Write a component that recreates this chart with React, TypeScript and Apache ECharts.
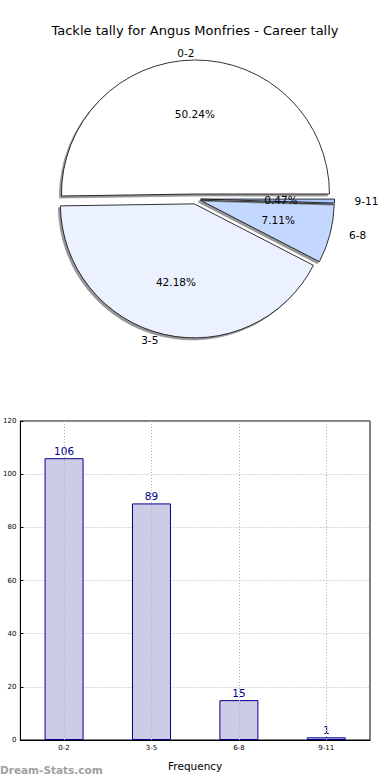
import React, { useEffect, useRef } from "react";
import * as echarts from "echarts";

const TITLE = "Tackle tally for Angus Monfries - Career tally";
const categories = ["0-2", "3-5", "6-8", "9-11"];
const tallies = [106, 89, 15, 1];
const yTicks = { min: 0, max: 120, interval: 20 };
const sliceColors = ["#ffffff", "#ebf1ff", "#c4d8ff", "#a9c5ff"];

// per-slice outside-label tuning (layout only)
const outsideLen = [7, 6, 3, 5];
const outsideGap = [0, 4, 16, 15];

const FONT = "DejaVu Sans";

export default function App() {
  const ref = useRef<HTMLDivElement>(null);
  useEffect(() => {
    if (!ref.current) return;
    const chart = echarts.init(ref.current, null, { renderer: "svg" });
    const center = [195.5, 199];
    const radius = 134;

    const pieMain = categories.map((c, i) => ({
      name: c,
      value: tallies[i],
      selected: true,
      itemStyle: { color: sliceColors[i] },
      label: { distanceToLabelLine: outsideGap[i] },
      labelLine: { show: false, length: outsideLen[i], length2: 0 },
    }));
    const pieInner = categories.map((c, i) => ({
      name: c,
      value: tallies[i],
      selected: true,
    }));

    chart.setOption({
      animation: false,
      title: {
        text: TITLE,
        left: "center",
        top: 19,
        textStyle: { fontFamily: FONT, fontSize: 13, fontWeight: "normal", color: "#000" },
      },
      graphic: [
        {
          type: "text",
          left: 0,
          top: 764,
          style: {
            text: "Dream-Stats.com",
            fontFamily: FONT,
            fontSize: 10.5,
            fontWeight: "bold",
            fill: "#a0a0a0",
          },
        },
      ],
      grid: {
        left: 19,
        right: 20,
        top: 421,
        bottom: 40,
        show: true,
        borderColor: "#000",
        borderWidth: 1,
        backgroundColor: "transparent",
      },
      xAxis: {
        type: "category",
        data: categories,
        name: "Frequency",
        nameLocation: "middle",
        nameGap: 20,
        nameTextStyle: { fontFamily: FONT, fontSize: 10.5, color: "#000" },
        axisLine: { lineStyle: { color: "#000", width: 1 } },
        axisTick: { show: true, alignWithLabel: true, inside: true, length: 3, lineStyle: { color: "#000" } },
        axisLabel: { fontFamily: FONT, fontSize: 7, color: "#000", margin: 4 },
        splitLine: { show: false },
      },
      yAxis: {
        type: "value",
        min: yTicks.min,
        max: yTicks.max,
        interval: yTicks.interval,
        axisLine: { show: true, lineStyle: { color: "#000", width: 1 } },
        axisTick: { show: true, inside: true, length: 3, lineStyle: { color: "#000" } },
        axisLabel: { fontFamily: FONT, fontSize: 7, color: "#000", margin: 4 },
        splitLine: { show: true, lineStyle: { color: "#b0b0b0", type: [1, 2], width: 1 } },
      },
      series: [
        {
          type: "pie",
          center,
          radius,
          startAngle: 0,
          clockwise: false,
          selectedMode: "multiple",
          selectedOffset: 5,
          avoidLabelOverlap: false,
          data: pieMain,
          itemStyle: {
            borderColor: "#000",
            borderWidth: 0.8,
            shadowColor: "rgba(60,60,60,0.55)",
            shadowOffsetX: -2,
            shadowOffsetY: 2,
            shadowBlur: 0,
          },
          select: { itemStyle: { borderColor: "#000", borderWidth: 0.8 } },
          emphasis: { disabled: true },
          label: {
            show: true,
            position: "outside",
            formatter: "{b}",
            fontFamily: FONT,
            fontSize: 10.5,
            color: "#000",
          },
          labelLine: { show: false },
          z: 2,
        },
        {
          type: "pie",
          center,
          radius: [21, radius],
          startAngle: 0,
          clockwise: false,
          selectedMode: "multiple",
          selectedOffset: 5,
          avoidLabelOverlap: false,
          data: pieInner,
          itemStyle: { color: "rgba(0,0,0,0)", borderWidth: 0 },
          select: { itemStyle: { color: "rgba(0,0,0,0)", borderWidth: 0 } },
          emphasis: { disabled: true },
          label: {
            show: true,
            position: "inside",
            formatter: "{d}%",
            fontFamily: FONT,
            fontSize: 10.5,
            color: "#000",
          },
          labelLine: { show: false },
          z: 3,
        },
        {
          type: "bar",
          data: tallies,
          barWidth: 39,
          itemStyle: { color: "#cccce6", borderColor: "#00008b", borderWidth: 1 },
          label: {
            show: true,
            position: "top",
            distance: 2,
            fontFamily: FONT,
            fontSize: 10.5,
            color: "#00008b",
          },
          emphasis: { disabled: true },
          markLine: {
            silent: true,
            symbol: "none",
            label: { show: false },
            lineStyle: { color: "#b0b0b0", type: [1, 2], width: 1 },
            data: categories.map((c) => ({ xAxis: c })),
          },
        },
      ],
    });
    return () => chart.dispose();
  }, []);
  return (
    <div
      ref={ref}
      style={{ position: "absolute", left: 0, top: 0, width: 390, height: 780 }}
    />
  );
}
